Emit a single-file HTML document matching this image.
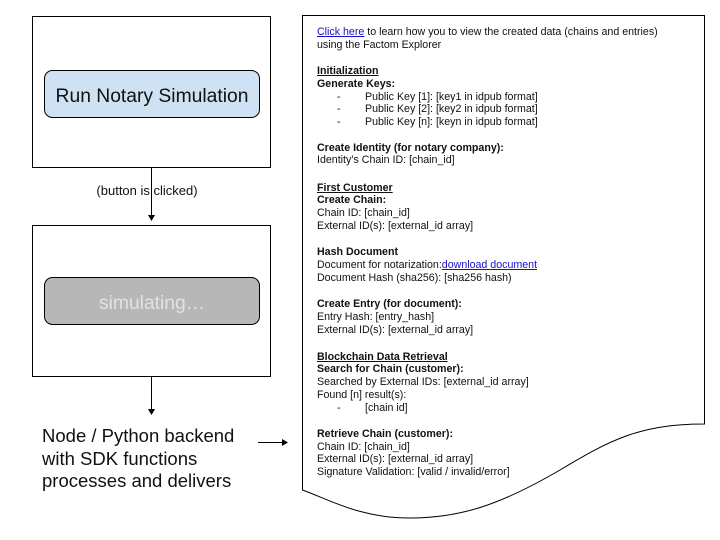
<!DOCTYPE html>
<html><head><meta charset="utf-8"><style>
body{margin:0;width:720px;height:540px;background:#fff;position:relative;overflow:hidden;font-family:"Liberation Sans",sans-serif;}
.t{position:absolute;left:317px;font-size:10.65px;color:#111;white-space:nowrap;line-height:13px;}
.b{font-weight:bold}
.u{text-decoration:underline;font-weight:bold}
a{color:#1a0dcc;text-decoration:underline}
</style></head><body>
<svg width="720" height="540" style="position:absolute;left:0;top:0">
<rect x="32.5" y="16.5" width="238" height="151" fill="none" stroke="#000" stroke-width="1"/>
<rect x="44.5" y="70.5" width="215" height="47" rx="8" fill="#cfe2f3" stroke="#000" stroke-width="1"/>
<line x1="151.5" y1="167" x2="151.5" y2="216" stroke="#000"/>
<polygon points="148,215 155,215 151.5,221" fill="#000"/>
<rect x="32.5" y="225.5" width="238" height="151" fill="none" stroke="#000" stroke-width="1"/>
<rect x="44.5" y="277.5" width="215" height="47" rx="8" fill="#b7b7b7" stroke="#000" stroke-width="1"/>
<line x1="151.5" y1="377" x2="151.5" y2="410" stroke="#000"/>
<polygon points="148,409 155,409 151.5,415" fill="#000"/>
<line x1="258" y1="442.5" x2="283" y2="442.5" stroke="#000"/>
<polygon points="282,439 288,442.5 282,446" fill="#000"/>
<path d="M302.5,15.5 H704.5 V424 C640,424 610,440 560,470 C500,505 460,518 410,518 C360,518 330,500 302.5,490 Z" fill="#fff" stroke="#000" stroke-width="1"/>
<text x="152" y="102" font-size="19.3" text-anchor="middle" fill="#111" font-family="Liberation Sans, sans-serif">Run Notary Simulation</text>
<text x="152" y="309" font-size="19.3" text-anchor="middle" fill="#e2e2e2" font-family="Liberation Sans, sans-serif">simulating…</text>
<text x="147" y="195" font-size="13" text-anchor="middle" fill="#111" font-family="Liberation Sans, sans-serif">(button is clicked)</text>
<text x="42" y="442" font-size="18.5" fill="#111" font-family="Liberation Sans, sans-serif">Node / Python backend</text>
<text x="42" y="465" font-size="18.5" fill="#111" font-family="Liberation Sans, sans-serif">with SDK functions</text>
<text x="42" y="487" font-size="18.5" fill="#111" font-family="Liberation Sans, sans-serif">processes and delivers</text>
</svg>
<div class="t" style="top:26px"><a>Click here</a> to learn how you to view the created data (chains and entries)</div>
<div class="t" style="top:39px">using the Factom Explorer</div>
<div class="t u" style="top:65px">Initialization</div>
<div class="t b" style="top:78px">Generate Keys:</div>
<div class="t" style="top:91px;left:337px">-</div><div class="t" style="top:91px;left:365px">Public Key [1]: [key1 in idpub format]</div>
<div class="t" style="top:103px;left:337px">-</div><div class="t" style="top:103px;left:365px">Public Key [2]: [key2 in idpub format]</div>
<div class="t" style="top:116px;left:337px">-</div><div class="t" style="top:116px;left:365px">Public Key [n]: [keyn in idpub format]</div>
<div class="t b" style="top:142px">Create Identity (for notary company):</div>
<div class="t" style="top:154px">Identity’s Chain ID: [chain_id]</div>
<div class="t u" style="top:182px">First Customer</div>
<div class="t b" style="top:194px">Create Chain:</div>
<div class="t" style="top:207px">Chain ID: [chain_id]</div>
<div class="t" style="top:220px">External ID(s): [external_id array]</div>
<div class="t b" style="top:246px">Hash Document</div>
<div class="t" style="top:259px">Document for notarization:<a>download document</a></div>
<div class="t" style="top:272px">Document Hash (sha256): [sha256 hash)</div>
<div class="t b" style="top:298px">Create Entry (for document):</div>
<div class="t" style="top:311px">Entry Hash: [entry_hash]</div>
<div class="t" style="top:324px">External ID(s): [external_id array]</div>
<div class="t u" style="top:351px">Blockchain Data Retrieval</div>
<div class="t b" style="top:363px">Search for Chain (customer):</div>
<div class="t" style="top:376px">Searched by External IDs: [external_id array]</div>
<div class="t" style="top:389px">Found [n] result(s):</div>
<div class="t" style="top:402px;left:337px">-</div><div class="t" style="top:402px;left:365px">[chain id]</div>
<div class="t b" style="top:428px">Retrieve Chain (customer):</div>
<div class="t" style="top:441px">Chain ID: [chain_id]</div>
<div class="t" style="top:453px">External ID(s): [external_id array]</div>
<div class="t" style="top:466px">Signature Validation: [valid / invalid/error]</div>
</body></html>
